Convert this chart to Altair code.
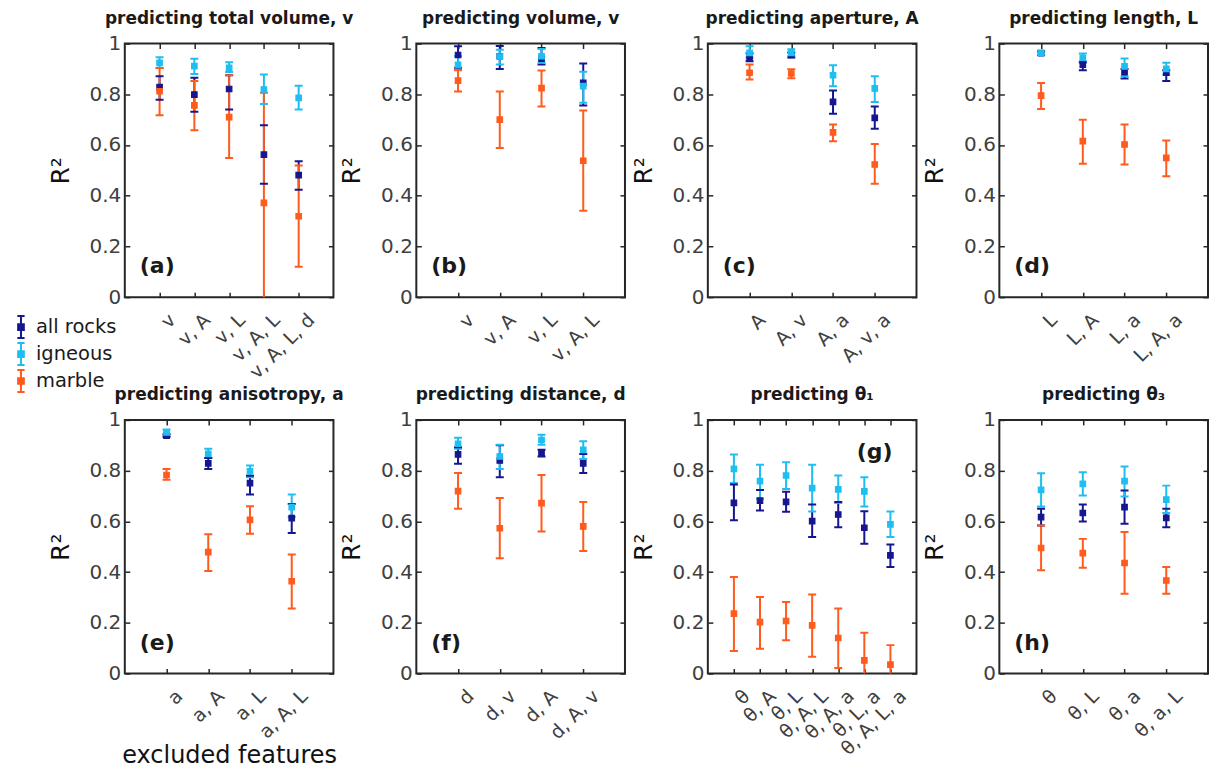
import altair as alt
import pandas as pd

SERIES = ["all rocks", "igneous", "marble"]
COLORS = ["#16168f", "#1ebff0", "#ff5b1c"]

TITLES = ["predicting total volume, v", "predicting volume, v", "predicting aperture, A",
          "predicting length, L", "predicting anisotropy, a", "predicting distance, d",
          "predicting θ₁", "predicting θ₃"]
TAGS = ["(a)", "(b)", "(c)", "(d)", "(e)", "(f)", "(g)", "(h)"]

# (a)
A_CATS = ["v", "v, A", "v, L", "v, A, L", "v, A, L, d"]
A_ALL = [0.828, 0.799, 0.821, 0.562, 0.481]
A_ALL_LO = [0.778, 0.731, 0.740, 0.447, 0.424]
A_ALL_HI = [0.871, 0.865, 0.875, 0.678, 0.536]
A_IGN = [0.924, 0.911, 0.904, 0.819, 0.786]
A_IGN_LO = [0.904, 0.880, 0.888, 0.762, 0.740]
A_IGN_HI = [0.946, 0.940, 0.926, 0.878, 0.834]
A_MAR = [0.812, 0.756, 0.710, 0.372, 0.319]
A_MAR_LO = [0.717, 0.658, 0.549, -0.080, 0.120]
A_MAR_HI = [0.904, 0.852, 0.875, 0.806, 0.519]
# (b)
B_CATS = ["v", "v, A", "v, L", "v, A, L"]
B_ALL = [0.955, 0.950, 0.940, 0.845]
B_ALL_LO = [0.905, 0.900, 0.917, 0.756]
B_ALL_HI = [0.989, 0.990, 0.983, 0.921]
B_IGN = [0.916, 0.949, 0.950, 0.832]
B_IGN_LO = [0.895, 0.917, 0.924, 0.767]
B_IGN_HI = [0.950, 0.976, 0.979, 0.889]
B_MAR = [0.854, 0.700, 0.824, 0.538]
B_MAR_LO = [0.811, 0.588, 0.752, 0.341]
B_MAR_HI = [0.896, 0.811, 0.894, 0.736]
# (c)
C_CATS = ["A", "A, v", "A, a", "A, v, a"]
C_ALL = [0.945, 0.955, 0.770, 0.707]
C_ALL_LO = [0.930, 0.945, 0.723, 0.664]
C_ALL_HI = [0.962, 0.965, 0.815, 0.752]
C_IGN = [0.963, 0.963, 0.875, 0.823]
C_IGN_LO = [0.945, 0.950, 0.832, 0.770]
C_IGN_HI = [0.989, 0.978, 0.915, 0.871]
C_MAR = [0.885, 0.882, 0.650, 0.523]
C_MAR_LO = [0.858, 0.863, 0.615, 0.447]
C_MAR_HI = [0.917, 0.899, 0.681, 0.604]
# (d)
D_CATS = ["L", "L, A", "L, a", "L, A, a"]
D_ALL = [0.962, 0.917, 0.887, 0.885]
D_ALL_LO = [0.955, 0.895, 0.862, 0.852]
D_ALL_HI = [0.969, 0.925, 0.900, 0.895]
D_IGN = [0.963, 0.944, 0.910, 0.900]
D_IGN_LO = [0.955, 0.930, 0.871, 0.878]
D_IGN_HI = [0.972, 0.961, 0.941, 0.924]
D_MAR = [0.795, 0.615, 0.602, 0.549]
D_MAR_LO = [0.742, 0.526, 0.523, 0.477]
D_MAR_HI = [0.845, 0.700, 0.681, 0.618]
# (e)
E_CATS = ["a", "a, A", "a, L", "a, A, L"]
E_ALL = [0.938, 0.829, 0.751, 0.613]
E_ALL_LO = [0.933, 0.807, 0.706, 0.554]
E_ALL_HI = [0.944, 0.850, 0.780, 0.669]
E_IGN = [0.951, 0.866, 0.797, 0.656]
E_IGN_LO = [0.940, 0.850, 0.774, 0.617]
E_IGN_HI = [0.962, 0.886, 0.820, 0.706]
E_MAR = [0.783, 0.479, 0.606, 0.364]
E_MAR_LO = [0.764, 0.404, 0.551, 0.256]
E_MAR_HI = [0.807, 0.549, 0.660, 0.469]
# (f)
F_CATS = ["d", "d, v", "d, A", "d, A, v"]
F_ALL = [0.864, 0.840, 0.869, 0.829]
F_ALL_LO = [0.827, 0.774, 0.856, 0.791]
F_ALL_HI = [0.892, 0.900, 0.882, 0.866]
F_IGN = [0.906, 0.856, 0.921, 0.882]
F_IGN_LO = [0.886, 0.807, 0.902, 0.846]
F_IGN_HI = [0.930, 0.902, 0.942, 0.916]
F_MAR = [0.719, 0.573, 0.672, 0.580]
F_MAR_LO = [0.650, 0.455, 0.560, 0.483]
F_MAR_HI = [0.791, 0.692, 0.783, 0.676]
# (g)
G_CATS = ["θ", "θ, A", "θ, L", "θ, A, L", "θ, A, a", "θ, L, a", "θ, A, L, a"]
G_ALL = [0.673, 0.682, 0.677, 0.601, 0.627, 0.575, 0.466]
G_ALL_LO = [0.604, 0.643, 0.638, 0.538, 0.577, 0.512, 0.420]
G_ALL_HI = [0.745, 0.724, 0.717, 0.667, 0.676, 0.640, 0.509]
G_IGN = [0.807, 0.759, 0.781, 0.731, 0.726, 0.718, 0.588]
G_IGN_LO = [0.751, 0.689, 0.728, 0.639, 0.672, 0.659, 0.538]
G_IGN_HI = [0.864, 0.823, 0.833, 0.823, 0.781, 0.774, 0.639]
G_MAR = [0.236, 0.203, 0.207, 0.190, 0.140, 0.052, 0.035]
G_MAR_LO = [0.089, 0.098, 0.131, 0.066, 0.022, -0.060, -0.040]
G_MAR_HI = [0.381, 0.302, 0.282, 0.312, 0.256, 0.161, 0.112]
# (h)
H_CATS = ["θ", "θ, L", "θ, a", "θ, a, L"]
H_ALL = [0.617, 0.633, 0.656, 0.614]
H_ALL_LO = [0.584, 0.600, 0.591, 0.577]
H_ALL_HI = [0.650, 0.667, 0.722, 0.650]
H_IGN = [0.724, 0.748, 0.759, 0.686]
H_IGN_LO = [0.659, 0.702, 0.698, 0.633]
H_IGN_HI = [0.790, 0.794, 0.816, 0.741]
H_MAR = [0.495, 0.475, 0.436, 0.367]
H_MAR_LO = [0.407, 0.417, 0.315, 0.315]
H_MAR_HI = [0.584, 0.531, 0.558, 0.420]

PANELS = [
    (A_CATS, A_ALL, A_ALL_LO, A_ALL_HI, A_IGN, A_IGN_LO, A_IGN_HI, A_MAR, A_MAR_LO, A_MAR_HI),
    (B_CATS, B_ALL, B_ALL_LO, B_ALL_HI, B_IGN, B_IGN_LO, B_IGN_HI, B_MAR, B_MAR_LO, B_MAR_HI),
    (C_CATS, C_ALL, C_ALL_LO, C_ALL_HI, C_IGN, C_IGN_LO, C_IGN_HI, C_MAR, C_MAR_LO, C_MAR_HI),
    (D_CATS, D_ALL, D_ALL_LO, D_ALL_HI, D_IGN, D_IGN_LO, D_IGN_HI, D_MAR, D_MAR_LO, D_MAR_HI),
    (E_CATS, E_ALL, E_ALL_LO, E_ALL_HI, E_IGN, E_IGN_LO, E_IGN_HI, E_MAR, E_MAR_LO, E_MAR_HI),
    (F_CATS, F_ALL, F_ALL_LO, F_ALL_HI, F_IGN, F_IGN_LO, F_IGN_HI, F_MAR, F_MAR_LO, F_MAR_HI),
    (G_CATS, G_ALL, G_ALL_LO, G_ALL_HI, G_IGN, G_IGN_LO, G_IGN_HI, G_MAR, G_MAR_LO, G_MAR_HI),
    (H_CATS, H_ALL, H_ALL_LO, H_ALL_HI, H_IGN, H_IGN_LO, H_IGN_HI, H_MAR, H_MAR_LO, H_MAR_HI),
]

FONT = "DejaVu Sans"
INK = "#262626"
LABEL = "#404040"
W, H = 209, 254
PAD_LEFT = 1

LEGEND_PATH = ("M0,-1V1M-0.33,-1H0.33M-0.33,1H0.33"
               "M-0.26,-0.26H0.26V0.26H-0.26Z")

color_scale = alt.Scale(domain=SERIES, range=COLORS)
y_scale = alt.Scale(domain=[0, 1], nice=False, zero=False)


def legend():
    return alt.Legend(orient="none", legendX=-116, legendY=272, title=None,
                      symbolType=LEGEND_PATH, symbolSize=484, symbolStrokeWidth=2,
                      labelFont=FONT, labelFontSize=19.5, labelColor="#1a1a1a",
                      rowPadding=-4, labelOffset=3)


def make_panel(i):
    cats, a, alo, ahi, g, glo, ghi, m, mlo, mhi = PANELS[i]
    rows = []
    for name, mean, lo, hi in ((SERIES[0], a, alo, ahi), (SERIES[1], g, glo, ghi),
                               (SERIES[2], m, mlo, mhi)):
        for c, v, l, h in zip(cats, mean, lo, hi):
            rows.append({"cat": c, "series": name, "mean": v, "lo": l, "hi": h})
    df = pd.DataFrame(rows)
    base = alt.Chart(df)
    xscale = alt.Scale(type="point", padding=1)
    xtitle = "excluded features" if i == 4 else None

    x_bottom = alt.X("cat:N", sort=cats, scale=xscale, title=xtitle,
                     axis=alt.Axis(orient="bottom", offset=-5, tickSize=5, domain=False,
                                   labelAngle=315, labelPadding=13, labelOffset=6,
                                   labelFont=FONT, labelFontSize=19, labelColor=LABEL,
                                   tickColor=INK, tickWidth=1.5, titleFont=FONT,
                                   titleFontSize=24, titleFontWeight="normal",
                                   titleColor="#111111", titlePadding=2, grid=False))
    y_left = alt.Y("lo:Q", scale=y_scale, title="R²",
                   axis=alt.Axis(orient="left", offset=-5, tickSize=5, domain=False,
                                 values=[0, 0.2, 0.4, 0.6, 0.8, 1], format="~g",
                                 labelPadding=4, labelFont=FONT, labelFontSize=20,
                                 labelColor=LABEL, tickColor=INK, tickWidth=1.5,
                                 titleFont=FONT, titleFontSize=25, titleFontWeight="normal",
                                 titleColor="#111111", titlePadding=16, grid=False))
    col = alt.Color("series:N", scale=color_scale, legend=legend())

    rules = base.mark_rule(strokeWidth=2, clip=True).encode(
        x=x_bottom, y=y_left, y2="hi:Q", color=col)
    cap_lo = base.mark_tick(size=8, thickness=2, clip=True, opacity=1).encode(
        x=alt.X("cat:N", sort=cats, scale=xscale, axis=None),
        y=alt.Y("lo:Q", scale=y_scale, axis=None), color=col)
    cap_hi = base.mark_tick(size=8, thickness=2, clip=True, opacity=1).encode(
        x=alt.X("cat:N", sort=cats, scale=xscale, axis=None),
        y=alt.Y("hi:Q", scale=y_scale, axis=None), color=col)
    pts = base.mark_point(shape="square", filled=True, size=30, strokeWidth=1.2,
                          opacity=1).encode(
        x=alt.X("cat:N", sort=cats, scale=xscale, title=None,
                axis=alt.Axis(orient="top", offset=-5, tickSize=5, domain=False,
                              labels=False, tickColor=INK, tickWidth=1.5, grid=False)),
        y=alt.Y("mean:Q", scale=y_scale, title=None,
                axis=alt.Axis(orient="right", offset=-5, tickSize=5, domain=False,
                              labels=False, values=[0, 0.2, 0.4, 0.6, 0.8, 1],
                              tickColor=INK, tickWidth=1.5, grid=False)),
        fill=alt.Fill("series:N", scale=color_scale, legend=legend()),
        stroke=alt.Stroke("series:N", scale=color_scale, legend=legend()),
    )
    if i == 6:
        tag = alt.Chart(pd.DataFrame({"t": [TAGS[i]]})).mark_text(
            font=FONT, fontSize=22, fontWeight="bold", color="#1a1a1a",
            align="right", baseline="alphabetic").encode(
            text="t:N", x=alt.value(W - 24), y=alt.value(39))
    else:
        tag = alt.Chart(pd.DataFrame({"t": [TAGS[i]]})).mark_text(
            font=FONT, fontSize=22, fontWeight="bold", color="#1a1a1a",
            align="left", baseline="alphabetic").encode(
            text="t:N", x=alt.value(15), y=alt.value(H - 24))

    return alt.layer(rules, cap_lo, cap_hi, pts, tag).resolve_axis(
        x="independent", y="independent").properties(
        width=W, height=H,
        title=alt.TitleParams(TITLES[i], font=FONT, fontSize=17, fontWeight="bold",
                              color="#1a1a1a", offset=6))


chart = alt.concat(*[make_panel(i) for i in range(8)], columns=4,
                   spacing={"row": 123, "column": 83}, bounds="flush").properties(
    padding={"left": PAD_LEFT, "top": 0, "right": 0, "bottom": 0}
).configure_view(stroke=INK, strokeWidth=2)

chart.save("out.html", embed_options={"renderer": "svg", "actions": False})
